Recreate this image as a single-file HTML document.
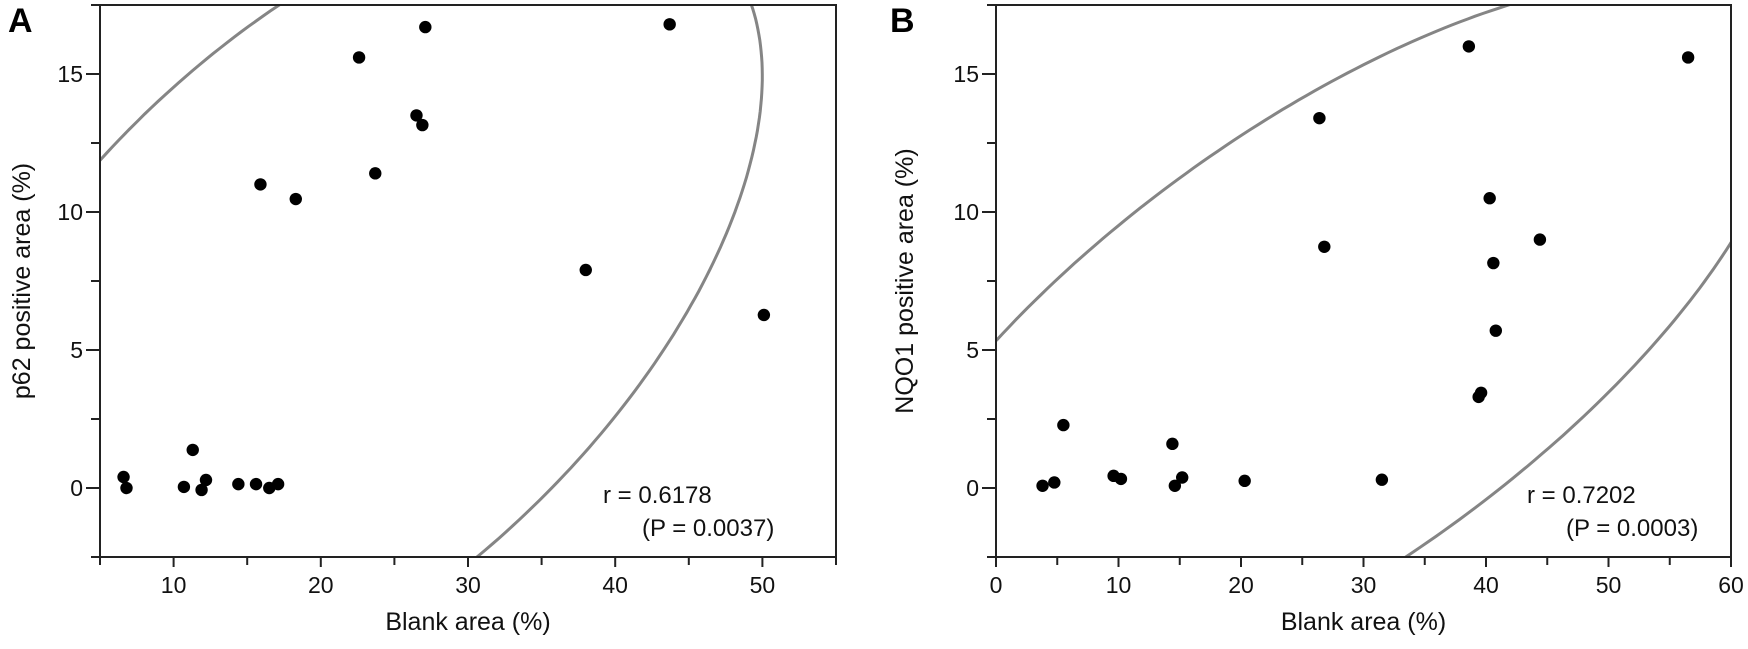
<!DOCTYPE html>
<html><head><meta charset="utf-8">
<style>
html,body{margin:0;padding:0;background:#fff;overflow:hidden;width:1748px;height:649px;}
svg{display:block;font-family:"Liberation Sans",Arial,sans-serif;}
</style></head>
<body>
<svg id="chart" width="1748" height="649" viewBox="0 0 1748 649" xmlns="http://www.w3.org/2000/svg">
<defs>
<clipPath id="clipA"><rect x="100" y="5" width="736" height="552"/></clipPath>
<clipPath id="clipB"><rect x="996" y="5" width="735" height="552"/></clipPath>
</defs>
</svg>
<script>
// Panel A data (p62 vs blank area)
const aBlank = [6.6,6.8,10.7,11.3,11.9,12.2,14.4,15.6,16.5,17.1,15.9,18.3,22.6,23.7,26.5,26.9,27.1,38.0,43.7,50.1];
const aP62   = [0.4,0.0,0.04,1.38,-0.07,0.29,0.14,0.14,0.0,0.14,11.0,10.47,15.6,11.4,13.5,13.15,16.7,7.9,16.8,6.27];
// Panel B data (NQO1 vs blank area)
const bBlank = [3.8,4.76,5.5,9.6,10.2,14.4,14.6,15.2,20.3,26.4,26.8,31.5,38.6,56.5,40.3,44.4,40.6,40.8,39.4,39.6];
const bNQO1  = [0.08,0.2,2.28,0.44,0.33,1.6,0.08,0.38,0.26,13.4,8.74,0.3,16.0,15.6,10.5,9.0,8.15,5.7,3.3,3.45];
// Confidence-ellipse curve samples (data units)
const aEllX = [5,16.6,49.4,49.8,49.0,45.9,39.1,30.2];
const aEllY = [11.55,17.5,17.5,16.0,13.0,6.6,2.06,-2.5];
const bEllX = [0,5.5,10,20.1,30,34.6,41.9,33,45,60];
const bEllY = [5.4,7.7,9.5,12.75,15.3,16.4,17.5,-2.5,1.2,9.06];
// Ticks
const aXMajor = [10,20,30,40,50];
const aXMinor = [5,15,25,35,45,55];
const bXMajor = [0,10,20,30,40,50,60];
const bXMinor = [5,15,25,35,45,55];
const yMajor = [0,5,10,15];
const yMinor = [-2.5,2.5,7.5,12.5,17.5];

const NS="http://www.w3.org/2000/svg";
const svg=document.getElementById('chart');
function mk(tag,attrs,parent){const e=document.createElementNS(NS,tag);for(const k in attrs)e.setAttribute(k,attrs[k]);(parent||svg).appendChild(e);return e;}

function solve(M,v){const n=v.length;const A=M.map((r,i)=>r.concat([v[i]]));
 for(let i=0;i<n;i++){let p=i;for(let r=i+1;r<n;r++)if(Math.abs(A[r][i])>Math.abs(A[p][i]))p=r;[A[i],A[p]]=[A[p],A[i]];
  for(let r=0;r<n;r++){if(r===i)continue;const f=A[r][i]/A[i][i];for(let c=i;c<=n;c++)A[r][c]-=f*A[i][c];}}
 return A.map((r,i)=>r[n]/r[i]);}

function fitEllipse(xs,ys,sx,sy){
 const N=Array.from({length:5},()=>[0,0,0,0,0]);const R=[0,0,0,0,0];
 for(let i=0;i<xs.length;i++){const u=xs[i]/sx,v=ys[i]/sy;const row=[u*u,u*v,v*v,u,v];
  for(let j=0;j<5;j++){R[j]+=row[j];for(let k=0;k<5;k++)N[j][k]+=row[j]*row[k];}}
 const [a,b,c,d,e]=solve(N,R);
 const c0=solve([[2*a,b],[b,2*c]],[-d,-e]);const x0=c0[0],y0=c0[1];
 const K=1-(a*x0*x0+b*x0*y0+c*y0*y0+d*x0+e*y0);
 const th=0.5*Math.atan2(b,a-c);const cs=Math.cos(th),sn=Math.sin(th);
 const l1=a*cs*cs+b*sn*cs+c*sn*sn,l2=a*sn*sn-b*sn*cs+c*cs*cs;
 const r1=Math.sqrt(K/l1),r2=Math.sqrt(K/l2);const pts=[];
 for(let i=0;i<=360;i++){const t=i*Math.PI/180;const p=r1*Math.cos(t),q=r2*Math.sin(t);
  pts.push([(x0+p*cs-q*sn)*sx,(y0+p*sn+q*cs)*sy]);}
 return pts;}

function panel(cfg){
 const g=mk('g',{});
 
 
 const X=v=>cfg.left+(v-cfg.xmin)/(cfg.xmax-cfg.xmin)*(cfg.right-cfg.left);
 const Y=v=>cfg.bottom-(v-(-2.5))/(17.5-(-2.5))*(cfg.bottom-cfg.top);
 const ep=fitEllipse(cfg.ex,cfg.ey,50,17.5);
 const el=mk('path',{d:'M'+ep.map(p=>X(p[0]).toFixed(1)+','+Y(p[1]).toFixed(1)).join('L')+'Z',fill:'none',stroke:'#858585','stroke-width':3,'clip-path':'url(#'+cfg.clip+')'},g);
 
 
 const fr=mk('rect',{x:cfg.left,y:cfg.top,width:cfg.right-cfg.left,height:cfg.bottom-cfg.top,fill:'none',stroke:'#222','stroke-width':2},g);
 
 
 cfg.xMaj.forEach(v=>{mk('line',{x1:X(v),x2:X(v),y1:cfg.bottom,y2:cfg.bottom+10,stroke:'#222','stroke-width':2},g);
  const t=mk('text',{x:X(v),y:cfg.bottom+36,'text-anchor':'middle','font-size':23,fill:'#111'},g);t.textContent=v;
  
  });
 cfg.xMin.forEach(v=>{mk('line',{x1:X(v),x2:X(v),y1:cfg.bottom,y2:cfg.bottom+8,stroke:'#222','stroke-width':2},g);});
 yMajor.forEach(v=>{mk('line',{x1:cfg.left-14,x2:cfg.left,y1:Y(v),y2:Y(v),stroke:'#222','stroke-width':2},g);
  const t=mk('text',{x:cfg.left-17,y:Y(v)+8,'text-anchor':'end','font-size':23,fill:'#111'},g);t.textContent=v;
  
  });
 yMinor.forEach(v=>{mk('line',{x1:cfg.left-9,x2:cfg.left,y1:Y(v),y2:Y(v),stroke:'#222','stroke-width':2},g);});
 cfg.xs.forEach((v,i)=>{const c=mk('circle',{cx:X(v),cy:Y(cfg.ys[i]),r:6.2,fill:'#000'},g);
  
  });
 const xt=mk('text',{x:(cfg.left+cfg.right)/2,y:630,'text-anchor':'middle','font-size':25,fill:'#111'},g);xt.textContent='Blank area (%)';
 
 
 const yt=mk('text',{x:0,y:0,'text-anchor':'middle','font-size':25,fill:'#111',transform:'translate('+cfg.ytx+','+((cfg.top+cfg.bottom)/2)+') rotate(-90)'},g);yt.textContent=cfg.ytitle;
 
 
 const L=mk('text',{x:cfg.lx,y:32,'font-size':34,'font-weight':'bold',fill:'#000'},g);L.textContent=cfg.letter;
 
 
 const r1=mk('text',{x:cfg.rx,y:503,'font-size':24,fill:'#111'},g);r1.textContent=cfg.r;
 
 
 const r2=mk('text',{x:cfg.rx+39,y:536,'font-size':24,fill:'#111'},g);r2.textContent=cfg.p;
 
 
}
panel({name:'panel-a',left:100,right:836,top:5,bottom:557,xmin:5,xmax:55,xs:aBlank,ys:aP62,ex:aEllX,ey:aEllY,clip:'clipA',
 xMaj:aXMajor,xMin:aXMinor,ytitle:'p62 positive area (%)',ytx:30,letter:'A',lx:8,rx:603,r:'r = 0.6178',p:'(P = 0.0037)'});
panel({name:'panel-b',left:996,right:1731,top:5,bottom:557,xmin:0,xmax:60,xs:bBlank,ys:bNQO1,ex:bEllX,ey:bEllY,clip:'clipB',
 xMaj:bXMajor,xMin:bXMinor,ytitle:'NQO1 positive area (%)',ytx:913,letter:'B',lx:890,rx:1527,r:'r = 0.7202',p:'(P = 0.0003)'});
</script>
</body></html>
